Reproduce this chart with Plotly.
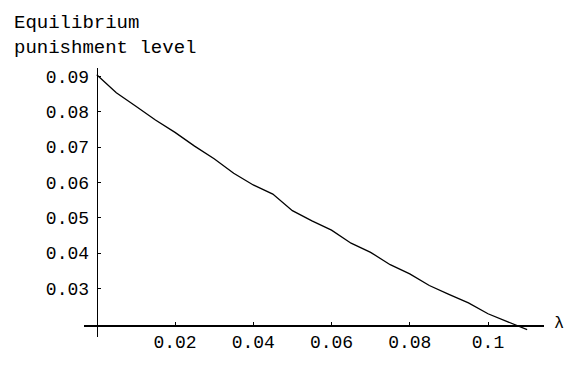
import plotly.graph_objects as go

# Data
lam = [0.0, 0.005, 0.01, 0.015, 0.02, 0.025, 0.03, 0.035, 0.04, 0.045, 0.05,
       0.055, 0.06, 0.065, 0.07, 0.075, 0.08, 0.085, 0.09, 0.095, 0.1, 0.105, 0.11]
punish = [0.0905, 0.0854, 0.0816, 0.0777, 0.0742, 0.0703, 0.0667, 0.0626, 0.0593,
          0.0567, 0.0520, 0.0491, 0.0465, 0.0428, 0.0402, 0.0367, 0.0341, 0.0308,
          0.0283, 0.0259, 0.0228, 0.0206, 0.0183]

x_tickvals = [0.02, 0.04, 0.06, 0.08, 0.1]
x_ticktext = ["0.02", "0.04", "0.06", "0.08", "0.1"]
y_tickvals = [0.03, 0.04, 0.05, 0.06, 0.07, 0.08, 0.09]
y_ticktext = ["0.03", "0.04", "0.05", "0.06", "0.07", "0.08", "0.09"]

y_title = "Equilibrium<br>punishment level"
x_title = "λ"

FONT = "Liberation Mono"
W, H = 565, 365
L, R, T, B = 84, 21, 68, 15
pw, ph = W - L - R, H - T - B

xmin, xmax = -0.00326, 0.11431
ymin, ymax = 0.016216, 0.092432
x_axis_val = 0.01946

fig = go.Figure()
fig.add_trace(go.Scatter(x=lam, y=punish, mode="lines",
                         line=dict(color="black", width=1.3),
                         hoverinfo="skip", showlegend=False))

ypos = (0 - xmin) / (xmax - xmin)
xpos = (x_axis_val - ymin) / (ymax - ymin)

fig.update_layout(
    width=W, height=H,
    margin=dict(l=L, r=R, t=T, b=B, pad=0),
    paper_bgcolor="white", plot_bgcolor="white",
    font=dict(family=FONT, size=18, color="black"),
    showlegend=False,
    xaxis=dict(range=[xmin, xmax], showgrid=False, zeroline=False,
               showline=True, linecolor="black", linewidth=1.5,
               anchor="free", position=xpos,
               ticks="inside", ticklen=3, tickcolor="black", tickwidth=1,
               tickvals=x_tickvals, ticktext=x_ticktext,
               tickfont=dict(family=FONT, size=18, color="black")),
    yaxis=dict(range=[ymin, ymax], showgrid=False, zeroline=False,
               showline=True, linecolor="black", linewidth=1.2,
               anchor="free", position=ypos,
               ticks="inside", ticklen=3, tickcolor="black", tickwidth=1,
               tickvals=y_tickvals, ticktext=y_ticktext,
               ticklabelstandoff=4,
               tickfont=dict(family=FONT, size=18, color="black")),
    annotations=[
        dict(text=y_title, xref="paper", yref="paper",
             x=(12 - L) / pw, y=(H - B - 7) / ph, xanchor="left", yanchor="top",
             align="left", showarrow=False,
             font=dict(family=FONT, size=19, color="black")),
        dict(text=x_title, xref="paper", yref="paper",
             x=(559 - L) / pw, y=(H - B - 336) / ph, xanchor="center", yanchor="middle",
             showarrow=False,
             font=dict(family=FONT, size=17, color="black")),
    ],
)

fig.write_html("out.html")
